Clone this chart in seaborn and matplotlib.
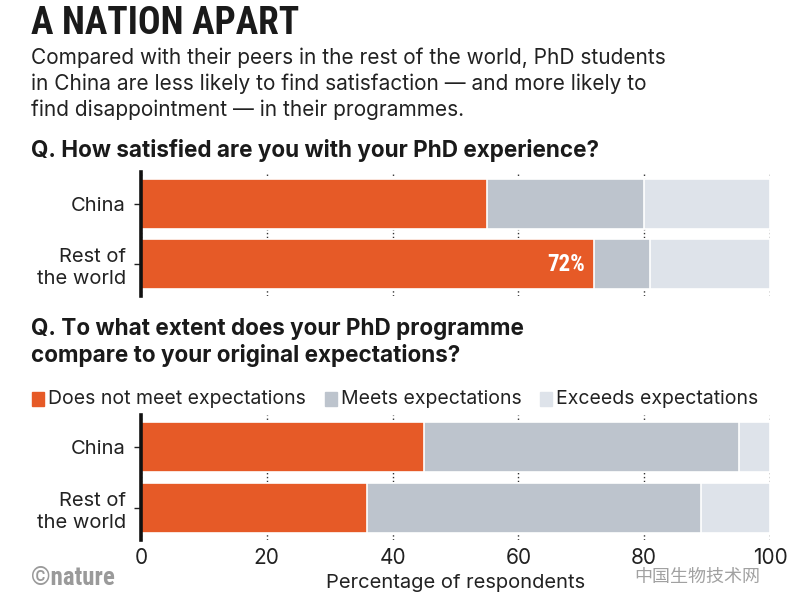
import numpy as np
import pandas as pd
import matplotlib.pyplot as plt
import seaborn as sns
from matplotlib import font_manager as fm

# data (percent of respondents)
groups = ["China", "Rest of\nthe world"]
sat_low = [55, 72]
sat_mid = [25, 9]
sat_high = [20, 19]
exp_not = [45, 36]
exp_meets = [50, 53]
exp_exceeds = [5, 11]
legend_labels = ["Does not meet expectations", "Meets expectations", "Exceeds expectations"]
x_ticks = [0, 20, 40, 60, 80, 100]

ORANGE = "#E65A27"
GRAY = "#BDC4CD"
LIGHT = "#DEE3EA"

sns.set_theme(style="white")

names = {f.name for f in fm.fontManager.ttflist}
def pick(*cands):
    for c in cands:
        if c in names:
            return c
    return "DejaVu Sans"

BODY = pick("Inter", "Lato", "Open Sans", "DejaVu Sans")
NARROW = pick("Liberation Sans Narrow", "Roboto Condensed", "DejaVu Sans")
CJK = [c for c in ["Noto Sans CJK SC", "Noto Sans CJK JP", "Noto Sans CJK TC",
                   "Noto Sans CJK KR"] if c in names] + ["Noto Sans CJK SC", "DejaVu Sans"]
plt.rcParams["font.family"] = [BODY, "DejaVu Sans"]

W, H = 800, 603
fig = plt.figure(figsize=(8, 6.03), dpi=100)

def fx(px):
    return px / W

def fy(py):
    return 1 - py / H

def panel(rect, a, b, c, show_x):
    ax = fig.add_axes(rect)
    df = pd.DataFrame({
        "group": groups,
        "low": a,
        "mid": np.add(a, b),
        "all": np.add(np.add(a, b), c),
    })
    for col, colr in [("all", LIGHT), ("mid", GRAY), ("low", ORANGE)]:
        sns.barplot(data=df, y="group", x=col, color=colr, saturation=1,
                    width=0.82, edgecolor="white", linewidth=1.2, ax=ax,
                    zorder=2)
    ax.set_xlim(0, 100)
    ax.set_ylim(1.52, -0.52)
    ax.set_xticks(x_ticks)
    ax.set_axisbelow(True)
    ax.xaxis.grid(True, linestyle=(0, (1, 1.8)), color="#333333", linewidth=1.0)
    ax.yaxis.grid(False)
    for s in ["top", "right", "bottom"]:
        ax.spines[s].set_visible(False)
    ax.spines["left"].set_linewidth(2.6)
    ax.spines["left"].set_color("#111111")
    ax.spines["left"].set_zorder(5)
    ax.tick_params(axis="y", length=5, width=1, color="#222222", pad=6,
                   labelsize=14.5, labelcolor="#222222", left=True)
    for t in ax.get_yticklabels():
        t.set_horizontalalignment("right")
        t.set_linespacing(1.25)
    ax.set_ylabel("")
    ax.set_xlabel("")
    if show_x:
        ax.tick_params(axis="x", length=0, pad=6, labelsize=15, labelcolor="#222222")
        ax.set_xlabel("Percentage of respondents", fontsize=14.5, color="#222222", labelpad=4)
    else:
        ax.tick_params(axis="x", length=0, labelbottom=False)
    return ax

ax1 = panel([fx(141), fy(296), fx(770 - 141), (296 - 172) / H], sat_low, sat_mid, sat_high, False)
ax2 = panel([fx(141), fy(540), fx(770 - 141), (540 - 415) / H], exp_not, exp_meets, exp_exceeds, True)

# value label inside the rest-of-world bar
ax1.text(sat_low[1] - 1.4, 1, f"{sat_low[1]}%", color="white", fontsize=16.5,
         fontweight="bold", fontfamily=NARROW, ha="right", va="center", zorder=6)

# title block
fig.text(fx(31), fy(23), "A NATION APART", fontsize=27, fontweight="bold",
         fontfamily=NARROW, color="#1a1a1a", va="center", ha="left")
subtitle = ("Compared with their peers in the rest of the world, PhD students\n"
            "in China are less likely to find satisfaction \u2014 and more likely to\n"
            "find disappointment \u2014 in their programmes.")
fig.text(fx(31), fy(47), subtitle, fontsize=15, color="#222222",
         va="top", ha="left", linespacing=1.36)
fig.text(fx(31), fy(150), "Q. How satisfied are you with your PhD experience?",
         fontsize=16.2, fontweight="bold", color="#1a1a1a", va="center", ha="left")
fig.text(fx(31), fy(318), "Q. To what extent does your PhD programme\ncompare to your original expectations?",
         fontsize=16.2, fontweight="bold", color="#1a1a1a", va="top", ha="left",
         linespacing=1.22)

# legend as squares + text
leg_x = [32, 325, 540]
for xpos, lab, colr in zip(leg_x, legend_labels, [ORANGE, GRAY, LIGHT]):
    fig.patches.append(plt.Rectangle((fx(xpos), fy(406)), fx(12), 14 / H,
                                     transform=fig.transFigure, color=colr))
    fig.text(fx(xpos + 16), fy(399), lab, fontsize=14, color="#222222",
             va="center", ha="left")

# footer
fig.text(fx(31), fy(578), "\u00a9nature", fontsize=18, fontweight="bold",
         fontfamily=NARROW, color="#9a9a9a", va="center", ha="left")
fig.text(fx(634), fy(577), "中国生物技术网", fontsize=13, family=CJK,
         color="#8a8a8a", va="center", ha="left", alpha=0.8)

fig.savefig("out.png", dpi=100, facecolor="white")
